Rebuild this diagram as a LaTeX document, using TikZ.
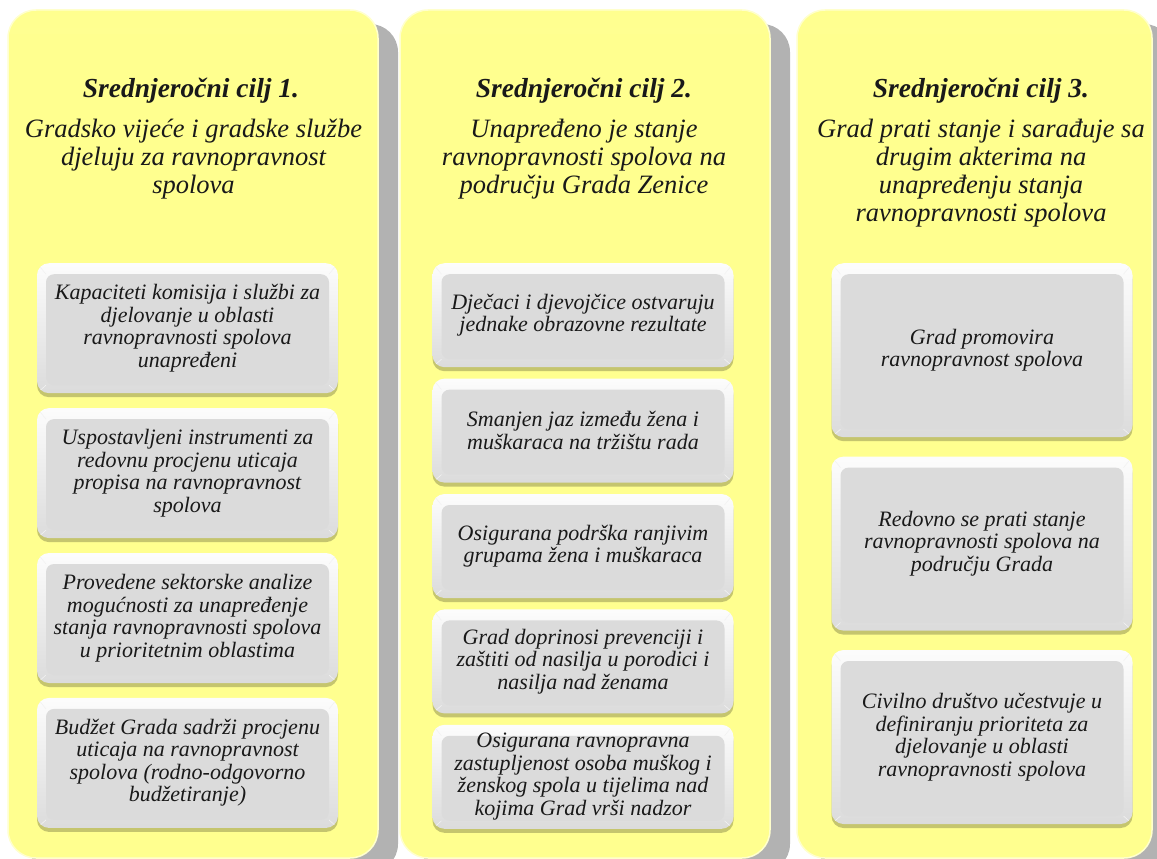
\documentclass[tikz,border=0pt]{standalone}
\usepackage{fontspec}
\setmainfont{Liberation Serif}
\usetikzlibrary{positioning,shadows}

\definecolor{ciljyellow}{RGB}{255,255,143}
\definecolor{boxface}{RGB}{219,219,219}
\definecolor{tekst}{RGB}{25,25,25}

\begin{document}
\begin{tikzpicture}[x=1pt,y=-1pt,
  cilj/.style={rounded corners=28pt,fill=ciljyellow,draw=ciljyellow!45!white,line width=1.5pt,minimum height=848,inner sep=0,
    drop shadow={shadow xshift=20pt,shadow yshift=-14pt,fill=black!30,opacity=1},
    path picture={\shade[sharp corners,top color=ciljyellow,bottom color=ciljyellow!35!white] (path picture bounding box.north west) rectangle ([yshift=-24pt]path picture bounding box.north east);}},
  naslov/.style={font=\fontsize{27.5}{29}\selectfont\bfseries\itshape,text=tekst,inner sep=0},
  opis/.style={font=\fontsize{26.5}{28}\selectfont\itshape,text=tekst,align=center,inner sep=0},
  rez/.style={rounded corners=12pt,minimum width=301,inner sep=0,align=center,text=tekst,
    font=\fontsize{22}{22.5}\selectfont\itshape,top color=gray!2,bottom color=gray!28,
    drop shadow={shadow xshift=0pt,shadow yshift=-4pt,fill=black!45!ciljyellow,opacity=.5},
    path picture={
      \fill[boxface,rounded corners=8pt] ([shift={(9pt,-11pt)}]path picture bounding box.north west) rectangle ([shift={(-9pt,8pt)}]path picture bounding box.south east);
      \draw[gray!10,line width=.6pt] (path picture bounding box.north west) -- ([shift={(9pt,-11pt)}]path picture bounding box.north west)
        (path picture bounding box.north east) -- ([shift={(-9pt,-11pt)}]path picture bounding box.north east)
        (path picture bounding box.south west) -- ([shift={(9pt,8pt)}]path picture bounding box.south west)
        (path picture bounding box.south east) -- ([shift={(-9pt,8pt)}]path picture bounding box.south east);}}]

\useasboundingbox (0,0) rectangle (1157,859);

% columns
\node[cilj,minimum width=370] (k1) at (193,434) {};
\node[cilj,minimum width=370] (k2) at (585,434) {};
\node[cilj,minimum width=355] (k3) at (974.5,434) {};

% headings
\node[naslov,anchor=base] (t1) at (191,98) {Srednjeročni cilj 1.};
\node[naslov,anchor=base] (t2) at (584,98) {Srednjeročni cilj 2.};
\node[naslov,anchor=base] (t3) at (981,98) {Srednjeročni cilj 3.};
\node[opis,anchor=north] (s1) at (193.5,119) {Gradsko vijeće i gradske službe\\ djeluju za ravnopravnost\\ spolova};
\node[opis,anchor=north] (s2) at (584,119) {Unapređeno je stanje\\ ravnopravnosti spolova na\\ području Grada Zenice};
\node[opis,anchor=north] (s3) at (981,119) {Grad prati stanje i sarađuje sa\\ drugim akterima na\\ unapređenju stanja\\ ravnopravnosti spolova};

% results, column 1
\node[rez,minimum height=130,anchor=north] (r11) at (187.5,263) {Kapaciteti komisija i službi za\\ djelovanje u oblasti\\ ravnopravnosti spolova\\ unapređeni};
\node[rez,minimum height=130,below=14.5pt of r11] (r12) {Uspostavljeni instrumenti za\\ redovnu procjenu uticaja\\ propisa na ravnopravnost\\ spolova};
\node[rez,minimum height=130,below=14.5pt of r12] (r13) {Provedene sektorske analize\\ mogućnosti za unapređenje\\ stanja ravnopravnosti spolova\\ u prioritetnim oblastima};
\node[rez,minimum height=130,below=14.5pt of r13] (r14) {Budžet Grada sadrži procjenu\\ uticaja na ravnopravnost\\ spolova (rodno-odgovorno\\ budžetiranje)};

% results, column 2
\node[rez,minimum height=104,anchor=north] (r21) at (583,263) {Dječaci i djevojčice ostvaruju\\ jednake obrazovne rezultate};
\node[rez,minimum height=104,below=11pt of r21] (r22) {Smanjen jaz između žena i\\ muškaraca na tržištu rada};
\node[rez,minimum height=104,below=11pt of r22] (r23) {Osigurana podrška ranjivim\\ grupama žena i muškaraca};
\node[rez,minimum height=104,below=11pt of r23] (r24) {Grad doprinosi prevenciji i\\ zaštiti od nasilja u porodici i\\ nasilja nad ženama};
\node[rez,minimum height=104,below=11pt of r24] (r25) {Osigurana ravnopravna\\ zastupljenost osoba muškog i\\ ženskog spola u tijelima nad\\ kojima Grad vrši nadzor};

% results, column 3
\node[rez,minimum height=174,anchor=north] (r31) at (982,263) {Grad promovira\\ ravnopravnost spolova};
\node[rez,minimum height=174,below=19pt of r31] (r32) {Redovno se prati stanje\\ ravnopravnosti spolova na\\ području Grada};
\node[rez,minimum height=174,below=19pt of r32] (r33) {Civilno društvo učestvuje u\\ definiranju prioriteta za\\ djelovanje u oblasti\\ ravnopravnosti spolova};

\end{tikzpicture}
\end{document}
